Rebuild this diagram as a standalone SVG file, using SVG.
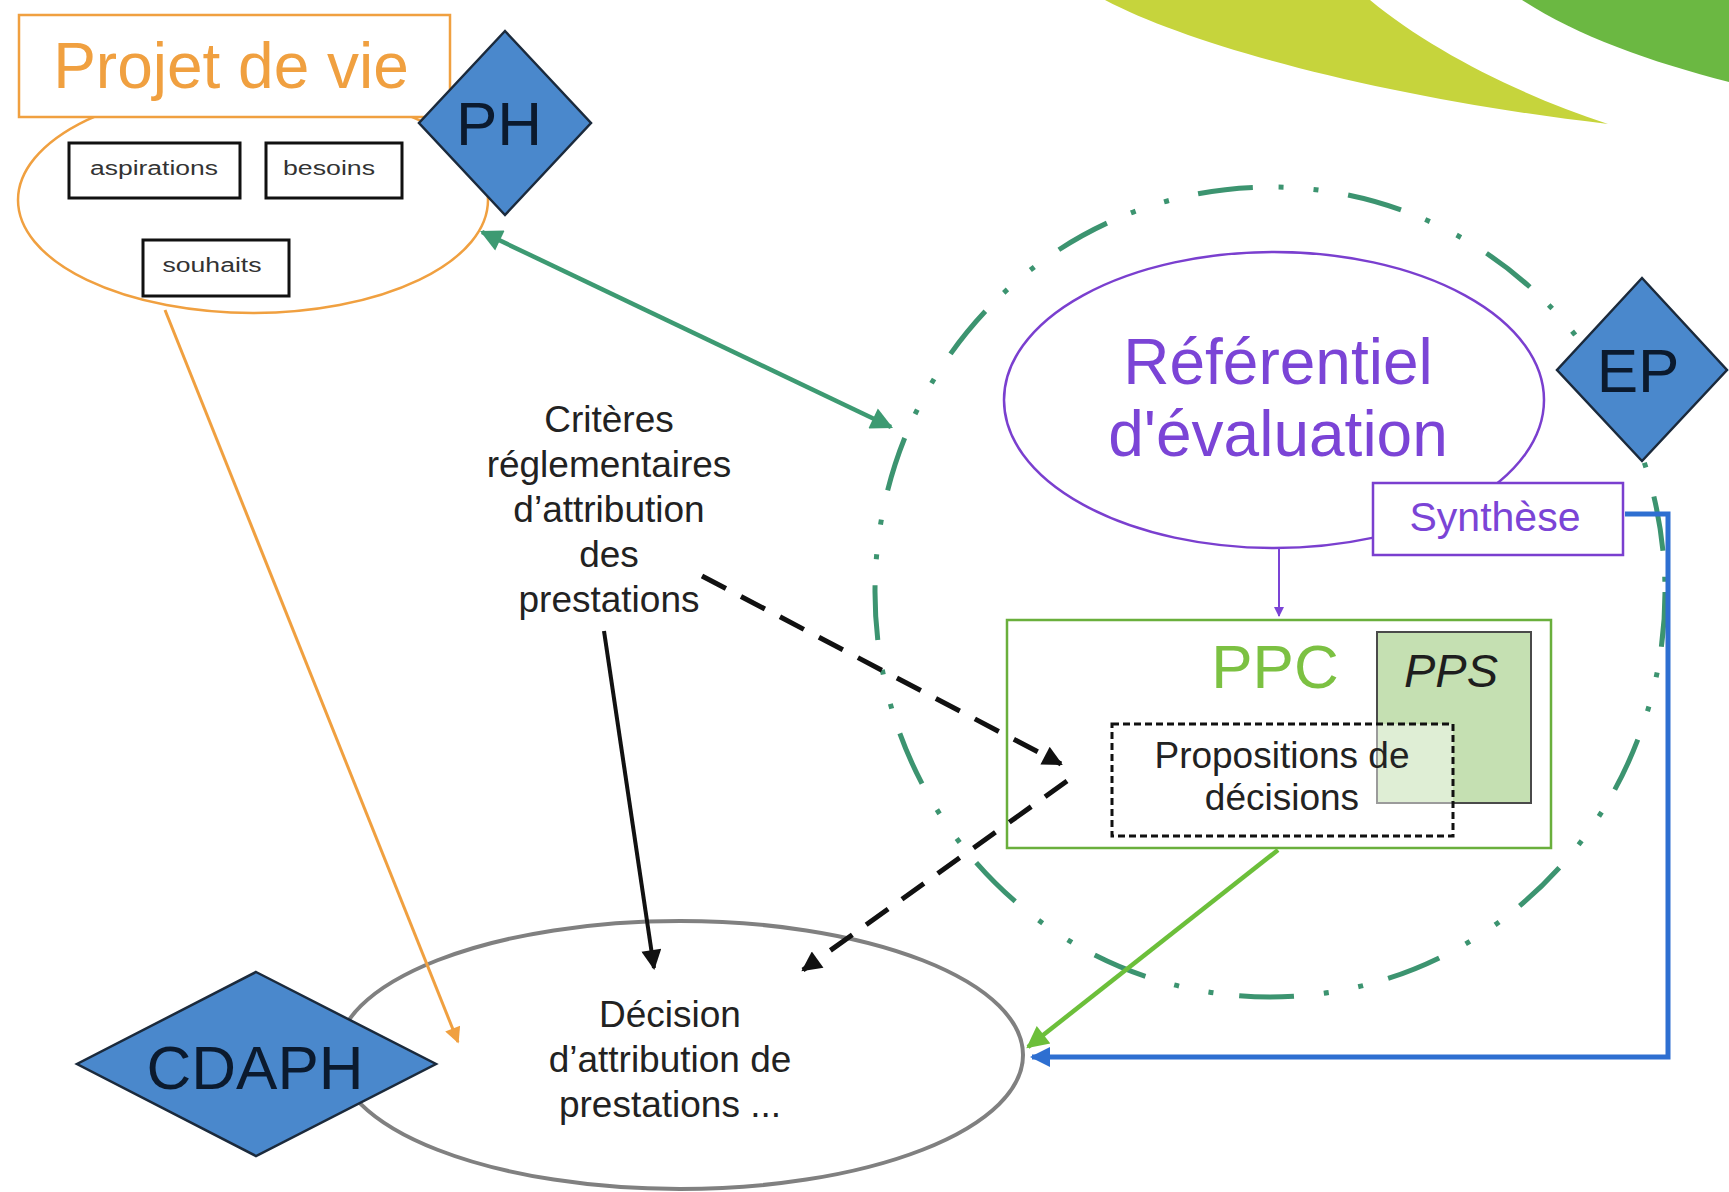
<svg xmlns="http://www.w3.org/2000/svg" width="1729" height="1192" viewBox="0 0 1729 1192">
<style>
text{font-family:"Liberation Sans",Arial,sans-serif;text-anchor:middle}
.diam{fill:#4A88CC;stroke:#1B2A3C;stroke-width:2.5}
.dtxt{fill:#0B1A2E;font-size:62px}
.small{fill:#fff;stroke:#111;stroke-width:3}
.stxt{fill:#333;font-size:20px}
.blk{fill:#222;font-size:37px}
.pur{fill:#7B44D6}
</style>
<defs>
<marker id="mTeal" viewBox="0 0 10 10" refX="9" refY="5" markerUnits="userSpaceOnUse" markerWidth="28" markerHeight="22" orient="auto-start-reverse"><path d="M0,0 L10,5 L0,10 z" fill="#3D9A72"/></marker>
<marker id="mOrange" viewBox="0 0 10 10" refX="9" refY="5" markerUnits="userSpaceOnUse" markerWidth="24" markerHeight="16" orient="auto"><path d="M0,0 L10,5 L0,10 z" fill="#F0A040"/></marker>
<marker id="mBlack" viewBox="0 0 10 10" refX="9" refY="5" markerUnits="userSpaceOnUse" markerWidth="26" markerHeight="20" orient="auto"><path d="M0,0 L10,5 L0,10 z" fill="#111"/></marker>
<marker id="mLime" viewBox="0 0 10 10" refX="9" refY="5" markerUnits="userSpaceOnUse" markerWidth="28" markerHeight="22" orient="auto"><path d="M0,0 L10,5 L0,10 z" fill="#6CBF3A"/></marker>
<marker id="mBlue" viewBox="0 0 10 10" refX="9" refY="5" markerUnits="userSpaceOnUse" markerWidth="30" markerHeight="20" orient="auto"><path d="M0,0 L10,5 L0,10 z" fill="#2E6FD1"/></marker>
<marker id="mPurple" viewBox="0 0 10 10" refX="9" refY="5" markerUnits="userSpaceOnUse" markerWidth="12" markerHeight="10" orient="auto"><path d="M0,0 L10,5 L0,10 z" fill="#7B44D6"/></marker>
</defs>
<rect width="1729" height="1192" fill="#fff"/>
<g id="decor">
<path d="M1105,0 C1200,50 1400,100 1608,124 C1520,95 1430,50 1370,0 Z" fill="#C6D43C"/>
<path d="M1522,0 L1729,0 L1729,82 C1650,62 1575,35 1522,0 Z" fill="#6BB842"/>
</g>
<g id="ep-boundary">
<ellipse cx="1270" cy="592" rx="395" ry="405" fill="none" stroke="#3C9470" stroke-width="5" stroke-dasharray="55 26 5 30 5 30"/>
</g>
<g id="projet-de-vie">
<ellipse cx="253" cy="200" rx="235" ry="113" fill="#fff" stroke="#F0A040" stroke-width="2.5"/>
<rect x="19" y="15" width="431" height="102" fill="#fff" stroke="#F0A040" stroke-width="2.5"/>
<text x="231" y="88" font-size="64" fill="#F0A040">Projet de vie</text>
</g>
<g id="aspirations"><rect class="small" x="69" y="143" width="171" height="55"/><text class="stxt" x="154" y="175" textLength="128" lengthAdjust="spacingAndGlyphs">aspirations</text></g>
<g id="besoins"><rect class="small" x="266" y="143" width="136" height="55"/><text class="stxt" x="329" y="175" textLength="92" lengthAdjust="spacingAndGlyphs">besoins</text></g>
<g id="souhaits"><rect class="small" x="143" y="240" width="146" height="56"/><text class="stxt" x="212" y="272" textLength="99" lengthAdjust="spacingAndGlyphs">souhaits</text></g>
<g id="ph"><path class="diam" d="M505,31 L591,123 L505,215 L419,123 Z"/><text class="dtxt" x="499" y="145">PH</text></g>
<g id="criteres">
<text class="blk" x="609" y="432">Critères</text>
<text class="blk" x="609" y="477">réglementaires</text>
<text class="blk" x="609" y="522">d’attribution</text>
<text class="blk" x="609" y="567">des</text>
<text class="blk" x="609" y="612">prestations</text>
</g>
<g id="referentiel">
<ellipse cx="1274" cy="400" rx="270" ry="148" fill="#fff" stroke="#7A3FCF" stroke-width="2.5"/>
<text class="pur" x="1278" y="384" font-size="64">Référentiel</text>
<text class="pur" x="1278" y="456" font-size="64">d'évaluation</text>
</g>
<g id="synthese"><rect x="1373" y="483" width="250" height="72" fill="#fff" stroke="#7A3FCF" stroke-width="2.5"/><text class="pur" x="1495" y="531" font-size="41">Synthèse</text></g>
<g id="ep"><path class="diam" d="M1642,278 L1727,370 L1642,461 L1557,370 Z"/><text class="dtxt" x="1638" y="392" font-size="60">EP</text></g>
<g id="ppc">
<rect x="1007" y="620" width="544" height="228" fill="#fff" stroke="#6AAF3C" stroke-width="2.5"/>
<text x="1275" y="688" font-size="62" fill="#7CC142">PPC</text>
</g>
<g id="pps">
<rect x="1377" y="632" width="154" height="171" fill="#C5E0B2" stroke="#4A4A4A" stroke-width="2"/>
<text x="1451" y="687" font-size="47" font-style="italic" fill="#1E1E1E">PPS</text>
</g>
<g id="propositions">
<rect x="1112" y="724" width="341" height="112" fill="#fff" fill-opacity="0.45" stroke="#111" stroke-width="3" stroke-dasharray="7 4"/>
<text class="blk" x="1282" y="768">Propositions de</text>
<text class="blk" x="1282" y="810">décisions</text>
</g>
<g id="decision">
<ellipse cx="680" cy="1055" rx="343" ry="134" fill="#fff" stroke="#808080" stroke-width="4"/>
<text class="blk" x="670" y="1027">Décision</text>
<text class="blk" x="670" y="1072">d’attribution de</text>
<text class="blk" x="670" y="1117">prestations ...</text>
</g>
<g id="cdaph"><path class="diam" d="M256,972 L436,1064 L256,1156 L77,1064 Z"/><text class="dtxt" x="255" y="1089" font-size="64">CDAPH</text></g>
<g id="connectors" fill="none">
<line x1="482" y1="232" x2="891" y2="427" stroke="#3D9A72" stroke-width="4.5" marker-start="url(#mTeal)" marker-end="url(#mTeal)"/>
<line x1="165" y1="310" x2="458" y2="1042" stroke="#F0A040" stroke-width="3" marker-end="url(#mOrange)"/>
<line x1="604" y1="631" x2="654" y2="968" stroke="#111" stroke-width="4" marker-end="url(#mBlack)"/>
<line x1="702" y1="576" x2="1061" y2="764" stroke="#111" stroke-width="5" stroke-dasharray="27 17" marker-end="url(#mBlack)"/>
<line x1="1067" y1="781" x2="803" y2="970" stroke="#111" stroke-width="5" stroke-dasharray="27 17" marker-end="url(#mBlack)"/>
<line x1="1279" y1="548" x2="1279" y2="616" stroke="#7B44D6" stroke-width="2" marker-end="url(#mPurple)"/>
<line x1="1278" y1="850" x2="1028" y2="1047" stroke="#6CBF3A" stroke-width="4.5" marker-end="url(#mLime)"/>
<path d="M1625,514 L1668,514 L1668,1057 L1032,1057" stroke="#2E6FD1" stroke-width="5" marker-end="url(#mBlue)"/>
</g>
</svg>
